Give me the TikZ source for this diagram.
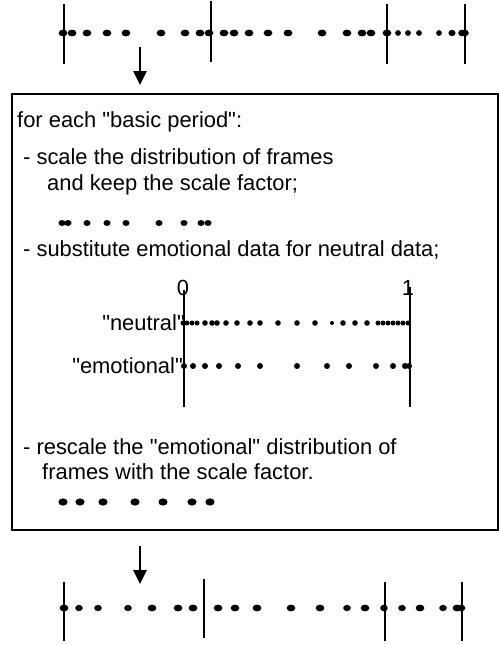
\documentclass[tikz,border=0pt]{standalone}
\usepackage{fontspec}
\setmainfont{Liberation Sans}[Ligatures=TeXOff]
\usetikzlibrary{arrows.meta}
\begin{document}
\begin{tikzpicture}[x=1pt,y=-1pt,
  txt/.style={anchor=base west,inner sep=0pt,font=\fontsize{21.9}{26}\selectfont},
  lbl/.style={anchor=base east,inner sep=0pt,font=\fontsize{21.9}{26}\selectfont},
  num/.style={anchor=base,inner sep=0pt,font=\fontsize{21.9}{26}\selectfont},
  tick/.style={line width=1.2pt},
  flow/.style={line width=2.6pt,-{Triangle[length=14pt,width=13pt]}},
  frame/.style={draw,line width=2pt,inner sep=0pt,outer sep=0pt}]
\useasboundingbox (0,0) rectangle (499,645);

% --- input: frames with period boundaries ---
\foreach \x/\rx/\ry in {63/4.4/3.4,72/4.4/3.4,87/4.4/3.4,107/4.4/3.4,126/4.4/3.4,161/4.4/3.4,185/4.4/3.4,200/4.4/3.4,209/4.4/3.4,
  224/4.4/3.4,234/4.4/3.4,249/4.4/3.4,268/4.4/3.4,288/4.4/3.4,322/4.4/3.4,347/4.4/3.4,362/4.4/3.4,371/4.4/3.4,387/4.4/3.4,
  398/2.9/2.9,408/2.9/2.9,419/2.9/2.9,439/2.9/2.9,452/3.6/3.2,462/3.8/3.3,465/3.8/3.3}
  \fill (\x,33) ellipse [x radius=\rx, y radius=\ry];
\foreach \x/\a/\b in {64/4/64,211/1/62,387/4/64,465/4/64}
  \draw[tick] (\x,\a) -- (\x,\b);

\coordinate (in1) at (140,47);
\coordinate (in2) at (140,85);
\draw[flow] (in1) -- (in2);

% --- processing box ---
\node[frame,minimum width=485.5pt,minimum height=436pt,anchor=north west] (box) at (12,94) {};

\node[txt] (t1) at (17,127) {for each "basic period":};
\node[txt] (t2) at (23,164) {- scale the distribution of frames};
\node[txt] (t3) at (47,190) {and keep the scale factor;};
\foreach \x in {62,68,87,107,126,159,184,201,208}
  \fill (\x,223) ellipse [x radius=3.5, y radius=3];
\node[txt] (t4) at (23,256) {- substitute emotional data for neutral data;};

% unit interval axes
\node[num] (zero) at (183,295) {0};
\node[num] (one) at (408,295) {1};
\draw[tick] (184,290) -- (184,407);
\draw[tick] (410,287) -- (410,407);

\node[lbl] (neu) at (185,330) {"neutral"};
\foreach \x/\r in {183/2.5,187/2.5,192/2.5,197/2.5,205/2.8,212/2.8,217/2.8,226/2.8,237/2.8,250/2.8,260/2.8,
  278/2.8,297/2.8,315/2.8,332/2,343/2.8,355/2.8,367/2.8,378/2.5,383/2.5,388/2.5,393/2.5,398/2.5,403/2.5,408/2.5}
  \fill (\x,323) circle [radius=\r];

\node[lbl] (emo) at (183,373) {"emotional"};
\foreach \x in {184,193,205,219,238,260,297,327,349,376,393,405,409}
  \fill (\x,366) circle [radius=3];

\node[txt] (t5) at (23,454) {- rescale the "emotional" distribution of};
\node[txt] (t6) at (42,479) {frames with the scale factor.};
\foreach \x in {63,80,103,135,163,192,210}
  \fill (\x,502) ellipse [x radius=4.6, y radius=3.6];

\coordinate (out1) at (140,546);
\coordinate (out2) at (140,584);
\draw[flow] (out1) -- (out2);

% --- output: rescaled frames ---
\foreach \x/\rx/\ry in {64/4.4/3.4,79/3.8/3.1,98/3.8/3.1,128/3.8/3.1,152/4.4/3.4,178/4.4/3.4,193/4.4/3.4,218/4.4/3.4,235/4.4/3.4,257/4.4/3.4,
  291/4.4/3.4,320/4.4/3.4,347/3.8/3.1,365/4.4/3.4,384/3.8/3.3,402/3.8/3.1,420/4.4/3.4,443/3.8/3.1,457/4.4/3.4,461/4.4/3.4}
  \fill (\x,608) ellipse [x radius=\rx, y radius=\ry];
\foreach \x/\a/\b in {64/582/641,204/579/638,385/582/641,462/582/641}
  \draw[tick] (\x,\a) -- (\x,\b);
\end{tikzpicture}
\end{document}
